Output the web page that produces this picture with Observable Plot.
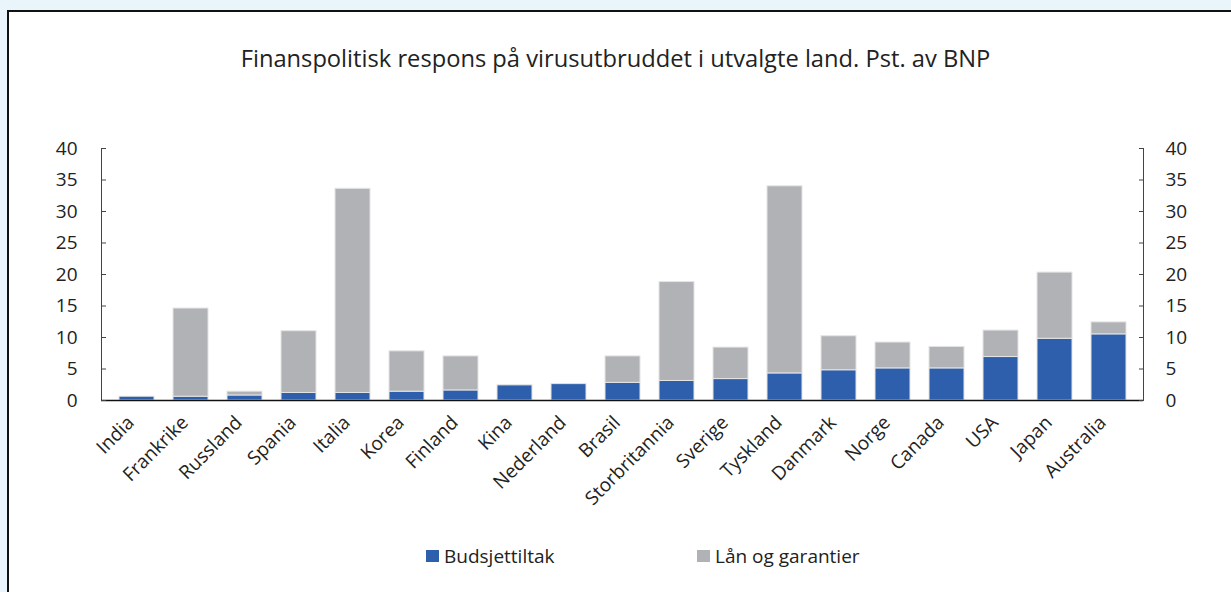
<!DOCTYPE html>
<html><head><meta charset="utf-8">
<script src="https://cdn.jsdelivr.net/npm/d3@7"></script>
<script src="https://cdn.jsdelivr.net/npm/@observablehq/plot@0.6"></script>
<style>
body{margin:0;background:#eaf5fb;width:1231px;height:592px;overflow:hidden;position:relative;font-family:"Open Sans",sans-serif;color:#222;}
#frame{position:absolute;left:7px;top:10px;width:1300px;height:700px;border-left:2px solid #111;border-top:2px solid #111;background:#fff;}
#title{position:absolute;left:0;width:1231px;top:42px;text-align:center;font-size:23.7px;color:#222;}
#chart{position:absolute;left:0;top:130px;}
.leg{position:absolute;top:543px;font-size:19px;display:flex;align-items:center;}
.sw{display:inline-block;width:13px;height:12px;margin-right:5px;}
</style></head>
<body>
<div id="frame"></div>
<div id="title">Finanspolitisk respons på virusutbruddet i utvalgte land. Pst. av BNP</div>
<div id="chart"></div>
<div id="legend"></div>
<script>
const countries = ["India","Frankrike","Russland","Spania","Italia","Korea","Finland","Kina","Nederland","Brasil","Storbritannia","Sverige","Tyskland","Danmark","Norge","Canada","USA","Japan","Australia"];
const budsjettiltak = [0.6,0.6,0.8,1.2,1.2,1.4,1.6,2.4,2.6,2.8,3.1,3.4,4.3,4.8,5.1,5.1,6.9,9.8,10.5];
const laanOgGarantier = [0,14.0,0.6,9.8,32.4,6.4,5.4,0,0,4.2,15.7,5.0,29.7,5.4,4.1,3.4,4.2,10.5,1.9];
const seriesNames = ["Budsjettiltak","Lån og garantier"];
const seriesColors = ["#2e5fad","#b1b2b5"];
const yTicks = [0,5,10,15,20,25,30,35,40];

const table = [];
countries.forEach((c,i)=>{
  table.push({land:c, serie:seriesNames[0], verdi:budsjettiltak[i]});
  table.push({land:c, serie:seriesNames[1], verdi:laanOgGarantier[i]});
});

const fs = 19;
const plot = Plot.plot({
  width:1231, height:390,
  marginLeft:101, marginRight:88, marginTop:18, marginBottom:120,
  style:{fontFamily:'"Open Sans",sans-serif', fontSize:fs+"px", color:"#222", background:"transparent", overflow:"visible"},
  x:{domain:countries, paddingInner:0.36, paddingOuter:0.18, label:null},
  y:{domain:[0,40], label:null},
  color:{domain:seriesNames, range:seriesColors},
  marks:[
    Plot.barY(table, Plot.stackY({x:"land", y:"verdi", fill:"serie", stroke:"#e4e4e4", strokeWidth:1})),
    Plot.frame({anchor:"left", stroke:"#444"}),
    Plot.frame({anchor:"right", stroke:"#444"}),
    Plot.ruleY([0], {stroke:"#111", strokeWidth:1.5}),
    Plot.axisY({anchor:"left", ticks:yTicks, tickSize:-5, tickPadding:29, fontSize:fs, stroke:"#444"}),
    Plot.axisY({anchor:"right", ticks:yTicks, tickSize:-5, tickPadding:27, fontSize:fs, stroke:"#444"}),
    Plot.axisX({tickSize:0, tickRotate:-45, tickPadding:19, dx:-6, fontSize:fs})
  ]
});
document.getElementById("chart").appendChild(plot);

const lg = document.getElementById("legend");
const legX = [426, 697];
seriesNames.forEach((s,i)=>{
  const d = document.createElement("div");
  d.className="leg";
  d.style.left = legX[i]+"px";
  d.innerHTML = `<span class="sw" style="background:${seriesColors[i]}"></span>${s}`;
  lg.appendChild(d);
});
</script>
</body></html>
